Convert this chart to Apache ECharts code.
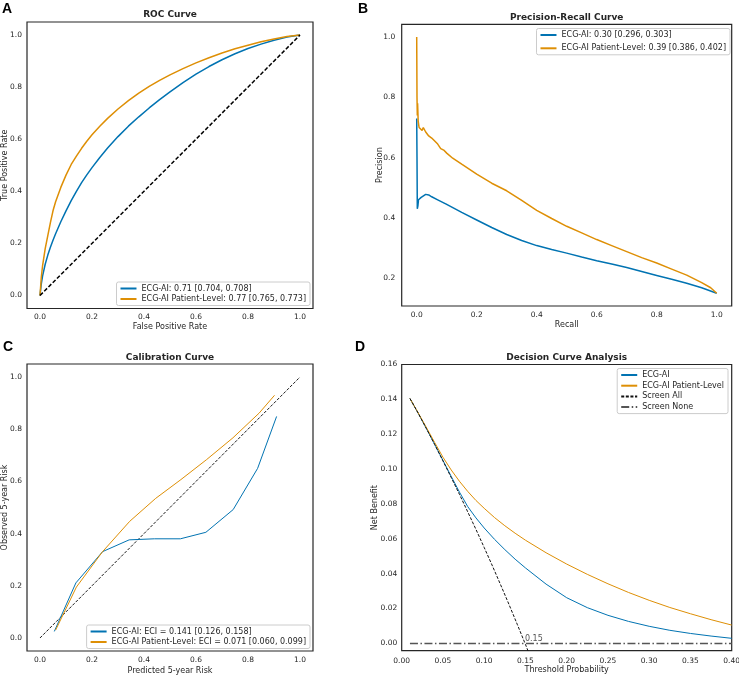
<!DOCTYPE html>
<html><head><meta charset="utf-8">
<script src="https://cdn.jsdelivr.net/npm/echarts@6.0.0/dist/echarts.min.js"></script>
<style>html,body{margin:0;padding:0;background:#fff}#c{width:739px;height:675px}</style>
</head><body><div id="c"></div>
<script>
// ---------- DATA ----------
// ROC
const rocFprAI  = [0,0.005,0.01,0.02,0.03,0.04,0.05,0.06,0.08,0.10,0.12,0.14,0.16,0.18,0.20,0.23,0.26,0.30,0.34,0.38,0.42,0.46,0.50,0.55,0.60,0.65,0.70,0.75,0.80,0.85,0.90,0.95,1.0];
const rocTprAI  = [0,0.045,0.075,0.12,0.155,0.185,0.212,0.237,0.283,0.325,0.364,0.40,0.433,0.463,0.491,0.53,0.566,0.61,0.65,0.686,0.72,0.752,0.782,0.817,0.85,0.879,0.905,0.928,0.948,0.965,0.98,0.992,1.0];
const rocFprPL  = [0,0.005,0.01,0.02,0.03,0.04,0.05,0.06,0.08,0.10,0.12,0.14,0.16,0.18,0.20,0.23,0.26,0.30,0.34,0.38,0.42,0.46,0.50,0.55,0.60,0.65,0.70,0.75,0.80,0.85,0.90,0.95,1.0];
const rocTprPL  = [0,0.07,0.115,0.18,0.23,0.28,0.325,0.36,0.415,0.462,0.503,0.535,0.565,0.592,0.617,0.65,0.68,0.716,0.748,0.777,0.803,0.826,0.847,0.871,0.893,0.913,0.931,0.947,0.961,0.974,0.985,0.994,1.0];
const rocChance = [0,1];
// Precision-Recall
const prRecAI  = [0,0.001,0.002,0.004,0.006,0.01,0.015,0.02,0.03,0.04,0.05,0.07,0.10,0.15,0.20,0.25,0.30,0.35,0.40,0.45,0.50,0.55,0.60,0.65,0.70,0.75,0.80,0.85,0.90,0.95,1.0];
const prPrecAI = [0.73,0.60,0.43,0.44,0.46,0.455,0.468,0.472,0.478,0.476,0.47,0.46,0.445,0.418,0.393,0.368,0.345,0.325,0.308,0.295,0.283,0.27,0.258,0.247,0.235,0.222,0.209,0.196,0.183,0.168,0.15];
const prRecPL  = [0,0.001,0.002,0.003,0.005,0.008,0.012,0.018,0.022,0.03,0.04,0.05,0.06,0.07,0.08,0.09,0.10,0.12,0.15,0.20,0.25,0.30,0.35,0.40,0.45,0.50,0.55,0.60,0.65,0.70,0.75,0.80,0.85,0.90,0.95,0.98,1.0];
const prPrecPL = [1.0,0.80,0.74,0.78,0.72,0.70,0.705,0.69,0.70,0.685,0.672,0.665,0.655,0.645,0.63,0.625,0.615,0.598,0.578,0.545,0.515,0.49,0.458,0.425,0.398,0.372,0.35,0.328,0.308,0.288,0.268,0.25,0.23,0.21,0.185,0.168,0.15];
// Calibration
const calPredAI = [0.055,0.138,0.241,0.343,0.44,0.54,0.638,0.743,0.837,0.91];
const calObsAI  = [0.025,0.211,0.331,0.376,0.38,0.38,0.405,0.492,0.65,0.849];
const calPredPL = [0.06,0.14,0.24,0.345,0.445,0.542,0.64,0.742,0.843,0.902];
const calObsPL  = [0.03,0.195,0.33,0.447,0.535,0.607,0.683,0.767,0.862,0.93];
const calIdeal  = [0,1];
// Decision curve
const dcaThr   = [0.01,0.02,0.03,0.04,0.05,0.06,0.07,0.08,0.09,0.10,0.1125,0.125,0.1375,0.15,0.175,0.20,0.225,0.25,0.275,0.30,0.325,0.35,0.375,0.40];
const dcaNbAI  = [0.1405,0.1320,0.1232,0.1142,0.1050,0.0958,0.0868,0.0785,0.0720,0.0662,0.0597,0.0538,0.0483,0.0433,0.0340,0.0262,0.0205,0.0161,0.0126,0.0098,0.0075,0.0057,0.0042,0.0029];
const dcaNbPL  = [0.1405,0.1322,0.1238,0.1152,0.1068,0.0995,0.0930,0.0872,0.0820,0.0775,0.0722,0.0675,0.0632,0.0592,0.0520,0.0455,0.0396,0.0342,0.0292,0.0247,0.0206,0.0170,0.0136,0.0105];
const dcaAllThr = [0.01,0.02,0.03,0.04,0.05,0.06,0.07,0.08,0.09,0.10,0.11,0.12,0.13,0.14,0.15,0.16];
const dcaAllNb  = [0.1405,0.1321,0.1232,0.1141,0.1047,0.0952,0.0855,0.0755,0.0654,0.0550,0.0444,0.0335,0.0224,0.0110,-0.0006,-0.0125];
const dcaNoneThr = [0.01,0.40];
const dcaNoneNb  = [0,0];
const dcaCrossThr = 0.15;
// Ticks
const ticks01   = [0,0.2,0.4,0.6,0.8,1.0];
const ticksPrY  = [0.2,0.4,0.6,0.8,1.0];
const ticksDcaX = [0,0.05,0.10,0.15,0.20,0.25,0.30,0.35,0.40];
const ticksDcaY = [0,0.02,0.04,0.06,0.08,0.10,0.12,0.14,0.16];

// ---------- CHART ----------
const zip = (a,b) => a.map((v,i)=>[v,b[i]]);
const F = 'DejaVu Sans', TXT = '#262626';
const BLUE = '#0173b2', ORANGE = '#de8f05';

function ax(gi, min, max, ticks, dec, name, gap, margin){
  return {type:'value', gridIndex:gi, min, max, name, nameLocation:'middle', nameGap:gap, nameMoveOverlap:false,
    nameTextStyle:{fontSize:8, color:TXT, fontFamily:F},
    axisLine:{show:false}, axisTick:{show:false}, splitLine:{show:false},
    axisLabel:{customValues:ticks, formatter:v=>Number(v).toFixed(dec), fontSize:7.5, color:TXT, fontFamily:F, margin:margin}};
}
function line(name, gi, data, color, width, type){
  return {type:'line', name, xAxisIndex:gi, yAxisIndex:gi, data, symbol:'none', showSymbol:false,
    lineStyle:{color, width, type:type||'solid'}, itemStyle:{color}, silent:true};
}
function legend(names, right, top, gap){
  return {data:names, orient:'vertical', right, top, itemWidth:16, itemHeight:8, itemGap:gap,
    itemStyle:{opacity:0, color:'rgba(0,0,0,0)', borderWidth:0},
    backgroundColor:'#fff', borderColor:'#cccccc', borderWidth:1, borderRadius:2, padding:[2,4,2,3],
    textStyle:{fontSize:8, color:TXT, fontFamily:F, lineHeight:9}, selectedMode:false};
}
const gb = {show:true, borderColor:'#262626', borderWidth:1.2, backgroundColor:'#fff', containLabel:false, outerBoundsMode:'none'};

const nA1='ECG-AI: 0.71 [0.704, 0.708]', nA2='ECG-AI Patient-Level: 0.77 [0.765, 0.773]';
const nB1='ECG-AI: 0.30 [0.296, 0.303]', nB2='ECG-AI Patient-Level: 0.39 [0.386, 0.402]';
const nC1='ECG-AI: ECI = 0.141 [0.126, 0.158]', nC2='ECG-AI Patient-Level: ECI = 0.071 [0.060, 0.099]';
const nD1='ECG-AI', nD2='ECG-AI Patient-Level', nD3='Screen All', nD4='Screen None';

const option = {
  animation:false,
  backgroundColor:'#fff',
  grid:[
    Object.assign({left:27, top:22, width:286, height:286.5}, gb),
    Object.assign({left:401.7, top:24.3, width:330, height:281.7}, gb),
    Object.assign({left:27, top:364, width:286, height:287}, gb),
    Object.assign({left:401.7, top:364.5, width:330, height:286.2}, gb)
  ],
  xAxis:[
    ax(0,-0.05,1.05,ticks01,1,'False Positive Rate',14,5),
    ax(1,-0.05,1.05,ticks01,1,'Recall',14.5,5.5),
    ax(2,-0.05,1.05,ticks01,1,'Predicted 5-year Risk',15.5,5.5),
    ax(3,0,0.4,ticksDcaX,2,'Threshold Probability',15.5,6)
  ],
  yAxis:[
    ax(0,-0.05,1.05,ticks01,1,'True Positive Rate',18,5),
    ax(1,0.1075,1.0425,ticksPrY,1,'Precision',17.5,6.5),
    ax(2,-0.05,1.05,ticks01,1,'Observed 5-year Risk',18,5),
    ax(3,-0.0042,0.16,ticksDcaY,2,'Net Benefit',23,4.5)
  ],
  legend:[
    legend([nA1,nA2], 429, 282, 1.5),
    legend([nB1,nB2], 9, 28.5, 4.3),
    legend([nC1,nC2], 429, 625, 1.5),
    legend([nD1,nD2,nD3,nD4], 11, 368.5, 1.7)
  ],
  series:[
    line(nA1,0,zip(rocFprAI,rocTprAI),BLUE,1.5),
    line(nA2,0,zip(rocFprPL,rocTprPL),ORANGE,1.5),
    line('rocChance',0,zip(rocChance,rocChance),'#000',1.5,[4,2]),
    line(nB1,1,zip(prRecAI,prPrecAI),BLUE,1.5),
    line(nB2,1,zip(prRecPL,prPrecPL),ORANGE,1.5),
    line('calIdeal',2,zip(calIdeal,calIdeal),'#1a1a1a',1,[3,1.6]),
    line(nC1,2,zip(calPredAI,calObsAI),BLUE,1),
    line(nC2,2,zip(calPredPL,calObsPL),ORANGE,1),
    line(nD1,3,zip(dcaThr,dcaNbAI),BLUE,1),
    line(nD2,3,zip(dcaThr,dcaNbPL),ORANGE,1),
    line(nD3,3,zip(dcaAllThr,dcaAllNb),'#111',1,[3,1.6]),
    line(nD4,3,zip(dcaNoneThr,dcaNoneNb),'#555',1.5,[8,2.5,1.5,2.5]),
    {type:'scatter', xAxisIndex:3, yAxisIndex:3, data:[[dcaCrossThr,0]], symbolSize:1, silent:true,
     itemStyle:{color:'rgba(0,0,0,0)'},
     label:{show:true, formatter:()=>dcaCrossThr.toFixed(2), position:[0,0], align:'left', verticalAlign:'bottom',
            fontSize:8, color:TXT, fontFamily:F}}
  ],
  graphic:[
    {type:'text', x:2, y:2.5, style:{text:'A', fontSize:14, fontWeight:'bold', fontFamily:'Liberation Sans', fill:'#000', align:'left', verticalAlign:'top'}},
    {type:'text', x:358, y:2.5, style:{text:'B', fontSize:14, fontWeight:'bold', fontFamily:'Liberation Sans', fill:'#000', align:'left', verticalAlign:'top'}},
    {type:'text', x:3, y:340, style:{text:'C', fontSize:14, fontWeight:'bold', fontFamily:'Liberation Sans', fill:'#000', align:'left', verticalAlign:'top'}},
    {type:'text', x:355, y:340, style:{text:'D', fontSize:14, fontWeight:'bold', fontFamily:'Liberation Sans', fill:'#000', align:'left', verticalAlign:'top'}},
    {type:'text', x:170, y:15, style:{text:'ROC Curve', fontSize:9, fontWeight:'bold', fontFamily:F, fill:TXT, align:'center', verticalAlign:'middle'}},
    {type:'text', x:566.7, y:18, style:{text:'Precision-Recall Curve', fontSize:9, fontWeight:'bold', fontFamily:F, fill:TXT, align:'center', verticalAlign:'middle'}},
    {type:'text', x:170, y:358, style:{text:'Calibration Curve', fontSize:9, fontWeight:'bold', fontFamily:F, fill:TXT, align:'center', verticalAlign:'middle'}},
    {type:'text', x:566.7, y:358, style:{text:'Decision Curve Analysis', fontSize:9, fontWeight:'bold', fontFamily:F, fill:TXT, align:'center', verticalAlign:'middle'}}
  ]
};
const chart = echarts.init(document.getElementById('c'), null, {renderer:'canvas'});
chart.setOption(option);
</script>
</body></html>
